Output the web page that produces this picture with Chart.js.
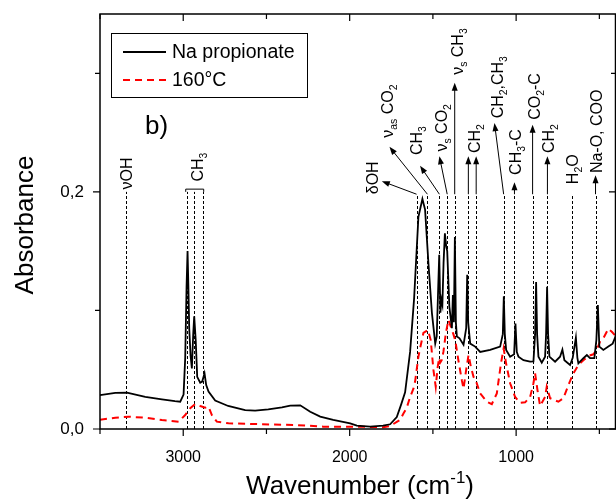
<!DOCTYPE html>
<html>
<head>
<meta charset="utf-8">
<script src="https://cdn.jsdelivr.net/npm/chart.js@4.4.1/dist/chart.umd.min.js"></script>
<style>
  html, body { margin: 0; padding: 0; background: #fff; }
  canvas { display: block; }
</style>
</head>
<body>
<canvas id="chart" width="616" height="502"></canvas>
<script>
// Na propionate spectrum (black, solid)
const naWave = [3500, 3408, 3338, 3228, 3128, 3050, 3018, 2998, 2988, 2980, 2974, 2969, 2964, 2956, 2948, 2940, 2934, 2925, 2916, 2898,
  2886, 2872, 2862, 2848, 2808, 2730, 2628, 2568, 2489, 2407, 2357, 2297, 2237, 2177, 2099, 1997, 1957, 1877, 1799, 1757,
  1717, 1690, 1667, 1637, 1613, 1587, 1563, 1547, 1527, 1506, 1486, 1477, 1468, 1462, 1455, 1449, 1443, 1436, 1428, 1420,
  1414, 1401, 1386, 1380, 1374, 1368, 1362, 1356, 1340, 1316, 1300, 1294, 1288, 1276, 1246, 1216, 1156, 1096, 1080, 1074,
  1068, 1060, 1036, 1012, 1004, 996, 986, 956, 916, 896, 886, 880, 874, 866, 846, 826, 820, 814, 808, 800,
  766, 736, 722, 710, 676, 660, 641, 632, 626, 596, 575, 556, 530, 518, 509, 503, 500, 476, 446, 420, 400];
const naAbs = [0.0285, 0.0305, 0.0306, 0.027, 0.025, 0.0235, 0.023, 0.029, 0.06, 0.12, 0.15, 0.12, 0.085, 0.062, 0.051, 0.08, 0.095, 0.075, 0.044, 0.039,
  0.04, 0.047, 0.037, 0.0315, 0.024, 0.0194, 0.016, 0.0155, 0.0166, 0.0183, 0.0197, 0.02, 0.0146, 0.0104, 0.0076, 0.0048, 0.0028, 0.002, 0.0028, 0.004,
  0.01, 0.021, 0.031, 0.065, 0.11, 0.179, 0.194, 0.185, 0.14, 0.098, 0.072, 0.078, 0.12, 0.147, 0.098, 0.109, 0.105, 0.14, 0.165, 0.154,
  0.15, 0.103, 0.085, 0.113, 0.09, 0.162, 0.09, 0.078, 0.0765, 0.071, 0.085, 0.13, 0.09, 0.072, 0.0695, 0.065, 0.0667, 0.0695, 0.08, 0.112,
  0.08, 0.0667, 0.061, 0.063, 0.089, 0.065, 0.061, 0.058, 0.0568, 0.057, 0.08, 0.124, 0.08, 0.061, 0.056, 0.061, 0.08, 0.12, 0.08, 0.061,
  0.0568, 0.061, 0.067, 0.058, 0.054, 0.06, 0.077, 0.06, 0.0554, 0.0597, 0.0624, 0.0597, 0.0597, 0.075, 0.1046, 0.08, 0.0695, 0.0667, 0.0695, 0.072, 0.079];

// after heating to 160 °C (red, dashed)
const heatWave = [3500, 3408, 3329, 3228, 3128, 3028, 2988, 2958, 2928, 2898, 2868, 2848, 2828, 2798, 2728, 2527, 2327, 2159, 1957, 1799,
  1757, 1717, 1697, 1677, 1657, 1637, 1617, 1607, 1587, 1577, 1557, 1530, 1513, 1497, 1483, 1471, 1462, 1456, 1447, 1437,
  1422, 1407, 1392, 1377, 1366, 1347, 1326, 1316, 1300, 1286, 1272, 1256, 1240, 1216, 1176, 1146, 1116, 1091, 1075, 1060,
  1036, 1006, 976, 946, 916, 896, 886, 872, 856, 826, 816, 796, 746, 716, 686, 656, 626, 596, 566, 536,
  516, 496, 476, 446, 425, 400];
const heatAbs = [0.0078, 0.0095, 0.0104, 0.0095, 0.0076, 0.0062, 0.0118, 0.0175, 0.021, 0.0194, 0.018, 0.0188, 0.0118, 0.0062, 0.0048, 0.004, 0.0034, 0.002, 0.002, 0.0015,
  0.0025, 0.006, 0.0076, 0.013, 0.018, 0.027, 0.034, 0.04, 0.061, 0.068, 0.081, 0.0835, 0.075, 0.05, 0.0357, 0.0526, 0.06, 0.056, 0.058, 0.065,
  0.081, 0.092, 0.086, 0.08, 0.075, 0.058, 0.041, 0.034, 0.05, 0.0624, 0.0526, 0.044, 0.04, 0.03, 0.023, 0.021, 0.03, 0.0554, 0.068, 0.055,
  0.0386, 0.027, 0.022, 0.0225, 0.027, 0.0386, 0.047, 0.033, 0.0195, 0.027, 0.0357, 0.026, 0.023, 0.026, 0.037, 0.047, 0.054, 0.058, 0.0616, 0.063,
  0.0667, 0.0737, 0.0765, 0.0845, 0.082, 0.078];

const xTicks = [3000, 2000, 1000];
const yTicks = [0, 0.2];

// band assignments: dotted line(s), optional arrows, rotated label
const bands = [
  { lines: [3342], top: 0.2, text: [['νOH']], lx: 3341, ly: 0.202 },
  { lines: [2976, 2934, 2880], top: 0.2, bracket: 0.2023, text: [['CH'], ['3', 1]], lx: 2914, ly: 0.2087 },
  { lines: [1598], top: 0.198, arrows: [[1807, 0.209]], text: [['δOH']], lx: 1862, ly: 0.198 },
  { lines: [1533], top: 0.198, arrows: [[1761, 0.238]], text: [['ν'], ['as', 1], [' CO'], ['2', 1]], lx: 1775, ly: 0.2456 },
  { lines: [1461], top: 0.198, arrows: [[1577, 0.222]], text: [['CH'], ['3', 1]], lx: 1599, ly: 0.231 },
  { lines: [1414], top: 0.198, arrows: [[1461, 0.23]], text: [['ν'], ['s', 1], [' CO'], ['2', 1]], lx: 1450, ly: 0.234 },
  { lines: [1369], top: 0.198, arrows: [[1369, 0.292]], text: [['ν'], ['s', 1], [' CH'], ['3', 1]], lx: 1354, ly: 0.2987 },
  { lines: [1287, 1240], top: 0.198, arrows: [[1287, 0.23], [1240, 0.23]], text: [['CH'], ['2', 1]], lx: 1251, ly: 0.2327 },
  { lines: [1075], top: 0.198, arrows: [[1130, 0.258]], text: [['CH'], ['2', 1], [',CH'], ['3', 1]], lx: 1111, ly: 0.262 },
  { lines: [1010], top: 0.198, arrows: [[1010, 0.208]], text: [['CH'], ['3', 1], ['-C']], lx: 1008, ly: 0.2143 },
  { lines: [901], top: 0.198, arrows: [[901, 0.2565]], text: [['CO'], ['2', 1], ['-C']], lx: 892, ly: 0.2608 },
  { lines: [812], top: 0.198, arrows: [[812, 0.23]], text: [['CH'], ['2', 1]], lx: 808, ly: 0.2327 },
  { lines: [665], top: 0.198, text: [['H'], ['2', 1], ['O']], lx: 664, ly: 0.2065 },
  { lines: [523], top: 0.198, arrows: [[523, 0.214]], text: [['Na-O, COO']], lx: 521, ly: 0.2158 }
];

const FONT = '"Liberation Sans", Arial, sans-serif';

function drawRich(ctx, parts, size, supMode) {
  let x = 0;
  for (const [t, small] of parts) {
    const s = small ? size * 0.65 : size;
    ctx.font = s + 'px ' + FONT;
    let dy = 0;
    if (small) dy = supMode ? -size * 0.42 : size * 0.25;
    ctx.fillText(t, x, dy);
    x += ctx.measureText(t).width;
  }
  return x;
}

function arrow(ctx, x1, y1, x2, y2) {
  const ang = Math.atan2(y2 - y1, x2 - x1);
  const len = 8, half = 3;
  ctx.beginPath();
  ctx.moveTo(x1, y1);
  ctx.lineTo(x2 - Math.cos(ang) * len * 0.8, y2 - Math.sin(ang) * len * 0.8);
  ctx.stroke();
  ctx.beginPath();
  ctx.moveTo(x2, y2);
  ctx.lineTo(x2 - Math.cos(ang) * len + Math.sin(ang) * half, y2 - Math.sin(ang) * len - Math.cos(ang) * half);
  ctx.lineTo(x2 - Math.cos(ang) * len - Math.sin(ang) * half, y2 - Math.sin(ang) * len + Math.cos(ang) * half);
  ctx.closePath();
  ctx.fill();
}

const decor = {
  id: 'decor',
  beforeDatasetsDraw(chart) {
    const { ctx, scales: { x, y } } = chart;
    ctx.save();
    ctx.strokeStyle = '#000';
    ctx.lineWidth = 1;
    ctx.setLineDash([3, 2]);
    bands.forEach(b => {
      b.lines.forEach(w => {
        const px = Math.round(x.getPixelForValue(w)) + 0.5;
        ctx.beginPath();
        ctx.moveTo(px, y.getPixelForValue(0));
        ctx.lineTo(px, y.getPixelForValue(b.top));
        ctx.stroke();
      });
    });
    ctx.restore();
  },
  afterDraw(chart) {
    const { ctx, chartArea: ca, scales: { x, y } } = chart;
    ctx.save();
    ctx.fillStyle = '#000';
    ctx.strokeStyle = '#000';

    // arrows, brackets, labels
    ctx.lineWidth = 1;
    bands.forEach(b => {
      (b.arrows || []).forEach((a, i) => {
        arrow(ctx, x.getPixelForValue(b.lines[i]), y.getPixelForValue(b.top),
          x.getPixelForValue(a[0]), y.getPixelForValue(a[1]));
      });
      if (b.bracket) {
        const x1 = x.getPixelForValue(b.lines[0]) - 1.5;
        const x2 = x.getPixelForValue(b.lines[b.lines.length - 1]) + 0.5;
        const by = y.getPixelForValue(b.bracket);
        const ey = y.getPixelForValue(b.top);
        ctx.beginPath();
        ctx.moveTo(x1, ey); ctx.lineTo(x1, by); ctx.lineTo(x2, by); ctx.lineTo(x2, ey);
        ctx.stroke();
      }
      const size = 16;
      ctx.save();
      ctx.translate(x.getPixelForValue(b.lx) + size * 0.36, y.getPixelForValue(b.ly));
      ctx.rotate(-Math.PI / 2);
      ctx.textBaseline = 'alphabetic';
      drawRich(ctx, b.text, size);
      ctx.restore();
    });

    // frame and ticks
    ctx.lineWidth = 1.5;
    ctx.strokeRect(ca.left, ca.top, ca.right - ca.left - 0.5, ca.bottom - ca.top);
    ctx.lineWidth = 1.2;
    ctx.beginPath();
    for (let v = 500; v <= 3500; v += 500) {
      const px = x.getPixelForValue(v);
      if (px < ca.left - 0.5 || px > ca.right + 0.5) continue;
      const len = v % 1000 === 0 ? 7 : 5;
      ctx.moveTo(px, ca.bottom); ctx.lineTo(px, ca.bottom + len);
      ctx.moveTo(px, ca.top); ctx.lineTo(px, ca.top + len);
    }
    for (let i = 0; i <= 3; i++) {
      const py = y.getPixelForValue(i / 10);
      const len = i % 2 === 0 ? 7 : 5;
      ctx.moveTo(ca.left, py); ctx.lineTo(ca.left - len, py);
      ctx.moveTo(ca.right, py); ctx.lineTo(ca.right - len, py);
    }
    ctx.stroke();

    // legend
    ctx.lineWidth = 1;
    ctx.strokeRect(111.5, 33.5, 196, 64);
    const rows = [52, 80];
    chart.data.datasets.forEach((ds, i) => {
      ctx.save();
      ctx.strokeStyle = ds.borderColor;
      ctx.lineWidth = ds.borderWidth;
      ctx.setLineDash(ds.borderDash || []);
      ctx.beginPath();
      ctx.moveTo(123, rows[i]); ctx.lineTo(166, rows[i]);
      ctx.stroke();
      ctx.restore();
      ctx.font = '19.5px ' + FONT;
      ctx.textBaseline = 'middle';
      ctx.fillText(ds.label, 172, rows[i] + 1);
    });

    // panel letter
    ctx.font = '26px ' + FONT;
    ctx.textBaseline = 'alphabetic';
    ctx.fillText('b)', 145, 134);

    // axis titles
    ctx.save();
    ctx.translate(33, 225);
    ctx.rotate(-Math.PI / 2);
    ctx.font = '26px ' + FONT;
    ctx.textAlign = 'center';
    ctx.fillText('Absorbance', 0, 0);
    ctx.restore();

    ctx.save();
    const parts = [['Wavenumber (cm'], ['-1', 1], [')']];
    ctx.translate(-1000, -1000);
    const w = drawRich(ctx, parts, 26, true);
    ctx.restore();
    ctx.save();
    ctx.translate(360 - w / 2, 494);
    drawRich(ctx, parts, 26, true);
    ctx.restore();

    ctx.restore();
  }
};

new Chart(document.getElementById('chart'), {
  type: 'line',
  data: {
    datasets: [
      {
        label: 'Na propionate',
        data: naWave.map((w, i) => ({ x: w, y: naAbs[i] })),
        borderColor: '#000',
        borderWidth: 1.8,
        pointRadius: 0,
        tension: 0
      },
      {
        label: '160°C',
        data: heatWave.map((w, i) => ({ x: w, y: heatAbs[i] })),
        borderColor: '#ff0000',
        borderWidth: 2,
        borderDash: [7, 5],
        pointRadius: 0,
        tension: 0
      }
    ]
  },
  options: {
    responsive: false,
    animation: false,
    devicePixelRatio: 1,
    layout: { padding: { left: 0, top: 14, right: 0, bottom: 0 } },
    plugins: { legend: { display: false }, tooltip: { enabled: false } },
    scales: {
      x: {
        type: 'linear',
        reverse: true,
        min: 400,
        max: 3500,
        grid: { display: false },
        border: { display: false },
        afterFit: s => { s.height = 73; s.paddingLeft = 0; s.paddingRight = 0; },
        afterBuildTicks: s => { s.ticks = xTicks.map(v => ({ value: v })); },
        ticks: {
          autoSkip: false,
          maxRotation: 0,
          padding: 11,
          color: '#000',
          font: { family: FONT, size: 16 },
          callback: v => String(v)
        }
      },
      y: {
        min: 0,
        max: 0.35,
        grid: { display: false },
        border: { display: false },
        afterFit: s => { s.width = 100; s.paddingTop = 0; s.paddingBottom = 0; },
        afterBuildTicks: s => { s.ticks = yTicks.map(v => ({ value: v })); },
        ticks: {
          padding: 8,
          color: '#000',
          font: { family: FONT, size: 17 },
          callback: v => v.toFixed(1).replace('.', ',')
        }
      }
    }
  },
  plugins: [decor]
});
</script>
</body>
</html>
